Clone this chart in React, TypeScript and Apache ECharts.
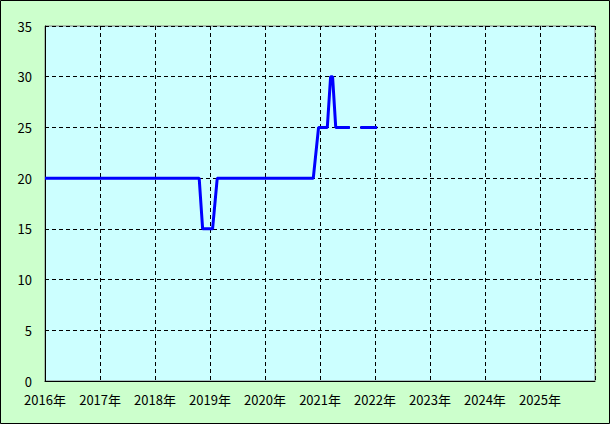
import React, { useEffect, useRef } from "react";
import * as echarts from "echarts";

const dates: string[] = [
  "2016-01-01", "2018-10-21", "2018-11-13", "2019-01-18", "2019-02-18",
  "2020-11-17", "2020-12-22", "2021-02-18", "2021-03-12", "2021-03-25",
  "2021-04-15", "2021-07-18", "2021-08-20", "2021-09-25", "2022-01-15",
];
const values: (number | null)[] = [
  20, 20, 15, 15, 20,
  20, 25, 25, 30, 30,
  25, 25, null, 25, 25,
];
const yTicks = { min: 0, max: 35, interval: 5 };
const xRange = { min: "2016-01-01", max: "2026-01-01" };

export default function App() {
  const ref = useRef<HTMLDivElement>(null);
  useEffect(() => {
    document.body.style.margin = "0";
    if (!ref.current) return;
    const chart = echarts.init(ref.current, undefined, { renderer: "svg" });
    const YEAR = 365.25 * 24 * 3600 * 1000;
    const font = "'Noto Sans CJK JP', 'Noto Sans', sans-serif";
    chart.setOption({
      animation: false,
      backgroundColor: "#CCFFCC",
      graphic: [
        {
          type: "rect",
          shape: { x: 0.5, y: 0.5, width: 609, height: 423 },
          style: { fill: "none", stroke: "#000", lineWidth: 1 },
          z: 100,
        },
      ],
      grid: {
        left: 45,
        top: 26,
        right: 15,
        bottom: 43,
        show: true,
        backgroundColor: "#CCFFFF",
        borderColor: "#808080",
        borderWidth: 1,
        containLabel: false,
      },
      xAxis: {
        type: "time",
        min: new Date(xRange.min + "T00:00:00").getTime(),
        max: new Date(xRange.max + "T00:00:00").getTime(),
        minInterval: YEAR * 0.99,
        maxInterval: YEAR * 1.01,
        axisLine: { show: true, lineStyle: { color: "#000", width: 1 } },
        axisTick: { show: false },
        splitLine: { show: true, lineStyle: { color: "#000", type: [4, 3], width: 1 } },
        axisLabel: {
          color: "#000",
          fontSize: 13,
          fontFamily: font,
          margin: 12,
          showMaxLabel: false,
          hideOverlap: false,
          formatter: (v: number) => new Date(v).getFullYear() + "年",
        },
      },
      yAxis: {
        type: "value",
        min: yTicks.min,
        max: yTicks.max,
        interval: yTicks.interval,
        axisLine: { show: true, lineStyle: { color: "#000", width: 1 } },
        axisTick: { show: false },
        splitLine: { show: true, lineStyle: { color: "#000", type: [4, 3], width: 1 } },
        axisLabel: { color: "#000", fontSize: 13, fontFamily: font, margin: 13 },
      },
      series: [
        {
          type: "line",
          data: dates.map((d, i) => [new Date(d + "T00:00:00").getTime(), values[i]]),
          showSymbol: false,
          connectNulls: false,
          lineStyle: { color: "#0000FF", width: 3 },
          itemStyle: { color: "#0000FF" },
        },
      ],
    });
    return () => chart.dispose();
  }, []);
  return <div ref={ref} style={{ width: 610, height: 424 }} />;
}
